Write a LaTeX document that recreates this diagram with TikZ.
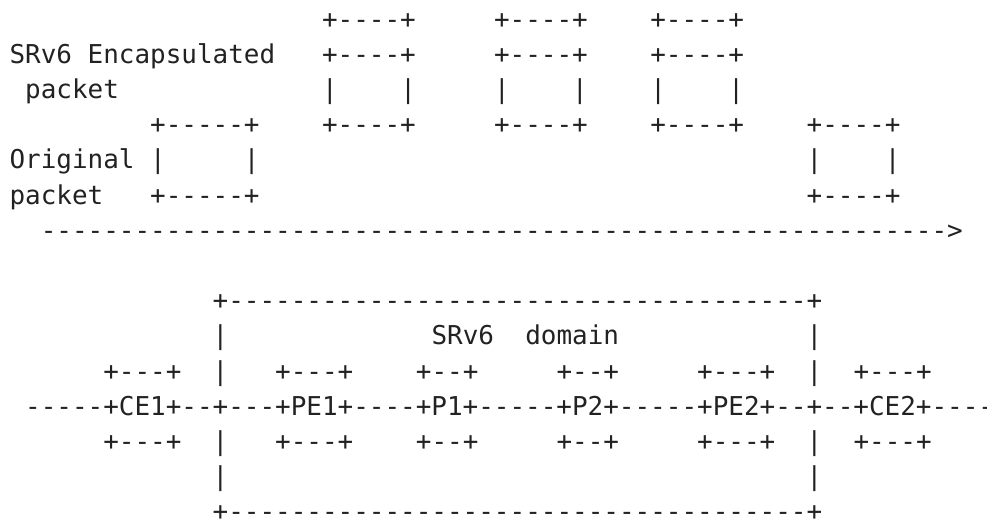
\documentclass[tikz,border=0pt]{standalone}
\usepackage{fontspec}
\usepackage{tikz}
\newfontfamily\asciifont{DejaVu Sans Mono}[Ligatures=TeXOff]
\definecolor{inkgray}{HTML}{222222}

\begin{document}
\begin{tikzpicture}[x=1pt,y=-1pt,
  ascii/.style={anchor=base west, inner sep=0pt, outer sep=0pt, text=inkgray,
    font=\asciifont\fontsize{25.96pt}{30pt}\selectfont}]
  \def\cw{15.63}  % width of one character cell
  \def\lh{35.2}   % line pitch
  \def\xo{9.5}
  \def\yo{28}
  \useasboundingbox (0,0) rectangle (987,523);

  % labels on the left
  \node[ascii] (enclbl) at ({\xo+0*\cw},{\yo+1*\lh}) {SRv6 Encapsulated};
  \node[ascii] (enclbl2) at ({\xo+1*\cw},{\yo+2*\lh}) {packet};
  \node[ascii] (origlbl) at ({\xo+0*\cw},{\yo+4*\lh}) {Original};
  \node[ascii] (origlbl2) at ({\xo+0*\cw},{\yo+5*\lh}) {packet};

  % encapsulated packets (double header line on top)
  \foreach \c/\n in {20/a,31/b,41/c}{
    \node[ascii] (enc\n-1) at ({\xo+\c*\cw},{\yo+0*\lh}) {+----+};
    \node[ascii] (enc\n-2) at ({\xo+\c*\cw},{\yo+1*\lh}) {+----+};
    \node[ascii] (enc\n-3) at ({\xo+\c*\cw},{\yo+2*\lh}) {|};
    \node[ascii] (enc\n-4) at ({\xo+(\c+5)*\cw},{\yo+2*\lh}) {|};
    \node[ascii] (enc\n-5) at ({\xo+\c*\cw},{\yo+3*\lh}) {+----+};
  }

  % original packet, at ingress and at egress
  \node[ascii] (orgin-1) at ({\xo+9*\cw},{\yo+3*\lh}) {+-----+};
  \node[ascii] (orgin-2) at ({\xo+9*\cw},{\yo+4*\lh}) {|};
  \node[ascii] (orgin-3) at ({\xo+15*\cw},{\yo+4*\lh}) {|};
  \node[ascii] (orgin-4) at ({\xo+9*\cw},{\yo+5*\lh}) {+-----+};
  \node[ascii] (orgout-1) at ({\xo+51*\cw},{\yo+3*\lh}) {+----+};
  \node[ascii] (orgout-2) at ({\xo+51*\cw},{\yo+4*\lh}) {|};
  \node[ascii] (orgout-3) at ({\xo+56*\cw},{\yo+4*\lh}) {|};
  \node[ascii] (orgout-4) at ({\xo+51*\cw},{\yo+5*\lh}) {+----+};

  % direction of travel
  \node[ascii] (flow) at ({\xo+2*\cw},{\yo+6*\lh})
    {---------------------------------------------------------->};

  % SRv6 domain frame
  \node[ascii] (domtop) at ({\xo+13*\cw},{\yo+8*\lh})
    {+-------------------------------------+};
  \node[ascii] (domlbl) at ({\xo+27*\cw},{\yo+9*\lh}) {SRv6};
  \node[ascii] (domlbl2) at ({\xo+33*\cw},{\yo+9*\lh}) {domain};
  \node[ascii] (dombot) at ({\xo+13*\cw},{\yo+14*\lh})
    {+-------------------------------------+};
  \foreach \r in {9,10,12,13}{
    \node[ascii] (domL-\r) at ({\xo+13*\cw},{\yo+\r*\lh}) {|};
    \node[ascii] (domR-\r) at ({\xo+51*\cw},{\yo+\r*\lh}) {|};
  }

  % node boxes above and below the chain
  \foreach \c/\w/\n in {6/+---+/ce1,17/+---+/pe1,26/+--+/p1,35/+--+/p2,44/+---+/pe2,54/+---+/ce2}{
    \node[ascii] (\n-top) at ({\xo+\c*\cw},{\yo+10*\lh}) {\w};
    \node[ascii] (\n-bot) at ({\xo+\c*\cw},{\yo+12*\lh}) {\w};
  }

  % the chain of nodes
  \node[ascii] (chain) at ({\xo+1*\cw},{\yo+11*\lh})
    {-----+CE1+--+---+PE1+----+P1+-----+P2+-----+PE2+--+--+CE2+----};
\end{tikzpicture}
\end{document}
